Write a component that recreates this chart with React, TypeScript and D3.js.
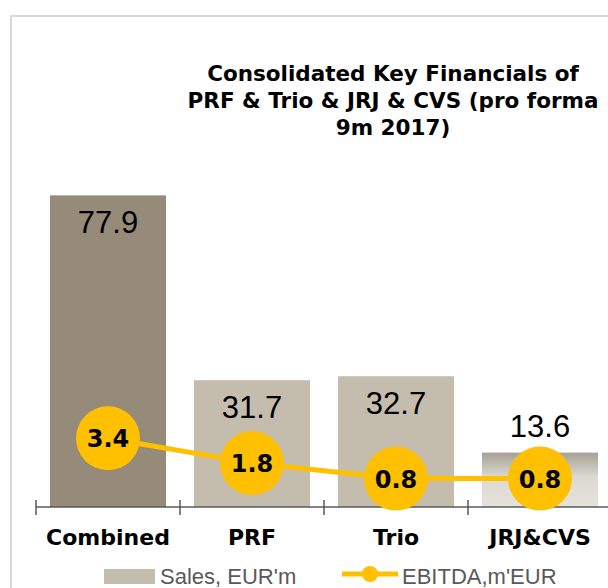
import React, { useRef, useEffect } from "react";
import * as d3 from "d3";

const categories = ["Combined", "PRF", "Trio", "JRJ&CVS"];
const sales = [77.9, 31.7, 32.7, 13.6];
const ebitda = [3.4, 1.8, 0.8, 0.8];
const titleLines = ["Consolidated Key Financials of", "PRF & Trio & JRJ & CVS (pro forma", "9m 2017)"];
const legendLabels = ["Sales, EUR'm", "EBITDA,m'EUR"];

const W = 608;
const H = 588;
const boldFont = "'DejaVu Sans', sans-serif";
const plainFont = "'Liberation Sans', Arial, sans-serif";

const App = () => {
  const ref = useRef<SVGSVGElement | null>(null);

  useEffect(() => {
    if (!ref.current) return;
    const svg = d3.select(ref.current);
    svg.selectAll("*").remove();

    // gradient for the last bar
    const defs = svg.append("defs");
    const grad = defs.append("linearGradient").attr("id", "jrjGrad")
      .attr("x1", 0).attr("y1", 0).attr("x2", 0).attr("y2", 1);
    grad.append("stop").attr("offset", "0%").attr("stop-color", "#a6a195");
    grad.append("stop").attr("offset", "45%").attr("stop-color", "#dcd9d1");
    grad.append("stop").attr("offset", "100%").attr("stop-color", "#e6e3dc");

    // frame
    svg.append("rect")
      .attr("x", 11).attr("y", 16).attr("width", 700).attr("height", 700)
      .attr("fill", "none").attr("stroke", "#d9d9d9").attr("stroke-width", 2);

    // title
    svg.append("text")
      .attr("text-anchor", "middle")
      .attr("font-family", boldFont)
      .attr("font-weight", 700)
      .attr("font-size", 21.5)
      .attr("fill", "#000")
      .selectAll("tspan")
      .data(titleLines)
      .enter()
      .append("tspan")
      .attr("x", 393)
      .attr("y", (d, i) => 81 + i * 27)
      .text(d => d);

    const x = d3.scaleBand<string>()
      .domain(categories)
      .range([36, 612])
      .paddingInner(0.194)
      .paddingOuter(0.097);

    const y = d3.scaleLinear().domain([0, 80]).range([507, 187]);
    const y2 = d3.scaleLinear().domain([0, 4]).range([491, 429]);

    // bars
    svg.selectAll("rect.bar")
      .data(sales)
      .enter()
      .append("rect")
      .attr("class", "bar")
      .attr("x", (d, i) => x(categories[i])!)
      .attr("y", d => y(d))
      .attr("width", x.bandwidth())
      .attr("height", d => y(0) - y(d))
      .attr("fill", (d, i) => (i === 0 ? "#968b79" : i === 3 ? "url(#jrjGrad)" : "#c4bdae"));

    // bar labels
    svg.selectAll("text.barLabel")
      .data(sales)
      .enter()
      .append("text")
      .attr("class", "barLabel")
      .attr("x", (d, i) => x(categories[i])! + x.bandwidth() / 2)
      .attr("y", d => (y(0) - y(d) > 80 ? y(d) + 38 : y(d) - 16))
      .attr("text-anchor", "middle")
      .attr("font-family", plainFont)
      .attr("font-size", 31)
      .attr("fill", "#000")
      .text(d => d.toFixed(1));

    // axis
    const axis = svg.append("g").attr("transform", "translate(0,507)");
    axis.append("line").attr("x1", 36).attr("x2", 612).attr("y1", 0).attr("y2", 0)
      .attr("stroke", "#595959").attr("stroke-width", 1.5);
    const tickXs = categories.map(c => x(c)! - x.step() * 0.097);
    axis.selectAll("line.tick")
      .data(tickXs)
      .enter()
      .append("line")
      .attr("class", "tick")
      .attr("x1", d => d).attr("x2", d => d)
      .attr("y1", -7).attr("y2", 8)
      .attr("stroke", "#595959").attr("stroke-width", 1.5);
    axis.selectAll("text.cat")
      .data(categories)
      .enter()
      .append("text")
      .attr("class", "cat")
      .attr("x", d => x(d)! + x.bandwidth() / 2)
      .attr("y", 38)
      .attr("text-anchor", "middle")
      .attr("font-family", boldFont)
      .attr("font-weight", 700)
      .attr("font-size", 22)
      .attr("fill", "#000")
      .text(d => d);

    // EBITDA line
    const cx = (i: number) => x(categories[i])! + x.bandwidth() / 2;
    const line = d3.line<number>().x((d, i) => cx(i)).y(d => y2(d));
    svg.append("path")
      .datum(ebitda)
      .attr("d", line)
      .attr("fill", "none")
      .attr("stroke", "#ffc000")
      .attr("stroke-width", 5);
    svg.selectAll("circle.pt")
      .data(ebitda)
      .enter()
      .append("circle")
      .attr("class", "pt")
      .attr("cx", (d, i) => cx(i))
      .attr("cy", d => y2(d))
      .attr("r", 32)
      .attr("fill", "#ffc000");
    svg.selectAll("text.ptLabel")
      .data(ebitda)
      .enter()
      .append("text")
      .attr("class", "ptLabel")
      .attr("x", (d, i) => cx(i))
      .attr("y", d => y2(d) + 9)
      .attr("text-anchor", "middle")
      .attr("font-family", boldFont)
      .attr("font-weight", 700)
      .attr("font-size", 24)
      .attr("fill", "#000")
      .text(d => d.toFixed(1));

    // legend
    const lg = svg.append("g");
    lg.append("rect").attr("x", 104).attr("y", 569).attr("width", 51).attr("height", 15).attr("fill", "#c4bdae");
    lg.append("text").attr("x", 160).attr("y", 584)
      .attr("font-family", plainFont)
      .attr("font-size", 22).attr("fill", "#595959").text(legendLabels[0]);
    lg.append("line").attr("x1", 342).attr("x2", 398).attr("y1", 574).attr("y2", 574)
      .attr("stroke", "#ffc000").attr("stroke-width", 5);
    lg.append("circle").attr("cx", 370).attr("cy", 574).attr("r", 8).attr("fill", "#ffc000");
    lg.append("text").attr("x", 402).attr("y", 584)
      .attr("font-family", plainFont)
      .attr("font-size", 22).attr("fill", "#595959").text(legendLabels[1]);
  }, []);

  return (
    <div style={{ position: "fixed", left: 0, top: 0 }}>
      <svg ref={ref} width={W} height={H} style={{ display: "block", background: "#fff" }} />
    </div>
  );
};

export default App;
